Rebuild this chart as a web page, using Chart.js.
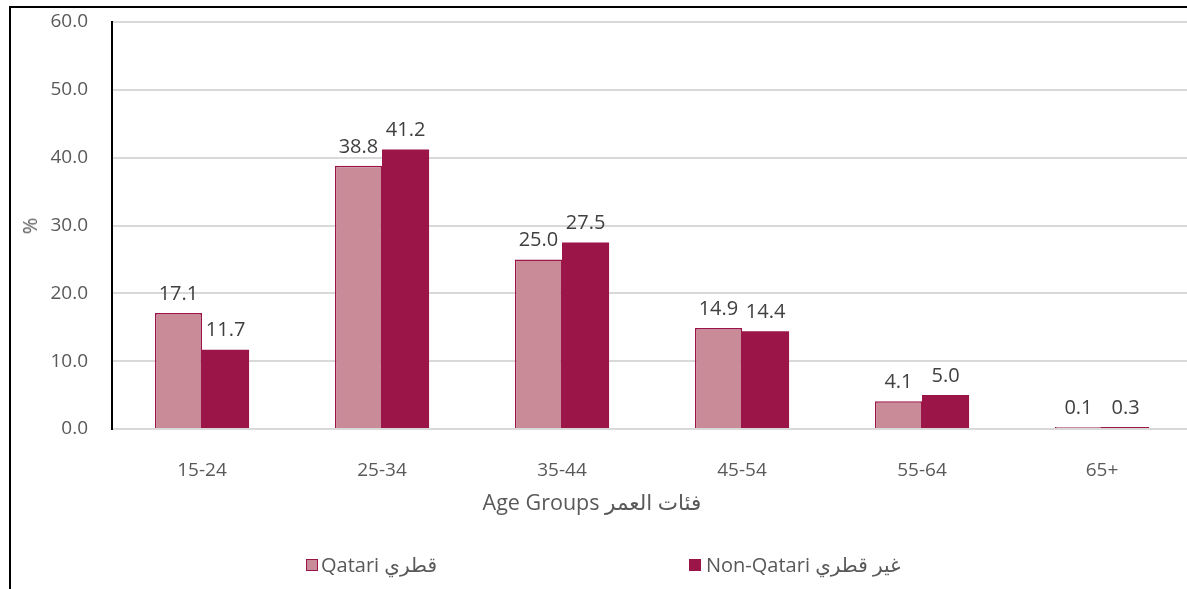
<!DOCTYPE html>
<html>
<head>
<meta charset="utf-8">
<script src="https://cdn.jsdelivr.net/npm/chart.js@4/dist/chart.umd.min.js"></script>
<style>
  html, body { margin: 0; background: #fff; overflow: hidden; width: 1187px; height: 589px; }
  body { position: relative; font-family: 'Open Sans', 'DejaVu Sans', sans-serif; }
  #frame { position: absolute; left: 9px; top: 6px; width: 1200px; height: 600px; border-left: 2px solid #000; border-top: 2px solid #000; }
  #wrap { position: absolute; left: 0; top: 0; width: 1192px; height: 589px; }
  .txt { position: absolute; color: #595959; font-size: 19px; line-height: 22px; white-space: nowrap; }
  .sw { position: absolute; width: 12px; height: 12px; box-sizing: border-box; }
</style>
</head>
<body>
<div id="frame"></div>
<div id="wrap"><canvas id="chart" width="1192" height="589"></canvas></div>
<div class="txt" id="yTitle" style="left:30px;top:226px;transform:translate(-50%,-50%) rotate(-90deg);font-size:20px;">%</div>
<div class="txt" id="xTitle" style="left:592px;top:502px;transform:translate(-50%,-50%);font-size:21.5px;">Age Groups فئات العمر</div>
<div class="sw" style="left:306px;top:559px;background:#C88B97;border:1.5px solid #9B1548;"></div>
<div class="txt" style="left:321px;top:554px;font-size:20px;">Qatari قطري</div>
<div class="sw" style="left:689px;top:559px;background:#9B1548;"></div>
<div class="txt" style="left:706px;top:554px;font-size:20px;">Non-Qatari غير قطري</div>
<script>
const ageGroups = ['15-24', '25-34', '35-44', '45-54', '55-64', '65+'];
const qatari = [17.1, 38.8, 25.0, 14.9, 4.1, 0.1];
const nonQatari = [11.7, 41.2, 27.5, 14.4, 5.0, 0.3];

const valueLabels = {
  id: 'valueLabels',
  afterDatasetsDraw(chart) {
    const ctx = chart.ctx;
    ctx.save();
    ctx.font = '20px "Open Sans"';
    ctx.fillStyle = '#404040';
    ctx.textAlign = 'center';
    ctx.textBaseline = 'bottom';
    chart.data.datasets.forEach((ds, i) => {
      chart.getDatasetMeta(i).data.forEach((bar, j) => {
        ctx.fillText(ds.data[j].toFixed(1), bar.x, bar.y - 9);
      });
    });
    ctx.restore();
  }
};

new Chart(document.getElementById('chart'), {
  type: 'bar',
  data: {
    labels: ageGroups,
    datasets: [
      { label: 'Qatari قطري', data: qatari, backgroundColor: '#C88B97', borderColor: '#9B1548', borderWidth: 1.5, minBarLength: 2 },
      { label: 'Non-Qatari غير قطري', data: nonQatari, backgroundColor: '#9B1548', borderWidth: 0, minBarLength: 2 }
    ]
  },
  options: {
    responsive: false,
    animation: false,
    categoryPercentage: 0.523,
    barPercentage: 1,
    layout: { padding: { top: 22, left: 0, right: 0, bottom: 0 } },
    plugins: { legend: { display: false }, tooltip: { enabled: false } },
    scales: {
      x: {
        grid: { display: false },
        border: { display: false },
        ticks: { color: '#595959', font: { family: 'Open Sans', size: 19 }, padding: 22 },
        afterFit: s => { s.height = 160; s.paddingLeft = 0; s.paddingRight = 0; }
      },
      y: {
        min: 0,
        max: 60,
        grid: { color: '#d9d9d9', lineWidth: 2, drawTicks: false },
        border: { display: true, color: '#000', width: 2 },
        ticks: { stepSize: 10, color: '#595959', font: { family: 'Open Sans', size: 19 }, padding: 24, callback: v => v.toFixed(1) },
        afterFit: s => { s.width = 112; s.paddingTop = 0; s.paddingBottom = 0; }
      }
    }
  },
  plugins: [valueLabels]
});
</script>
</body>
</html>
